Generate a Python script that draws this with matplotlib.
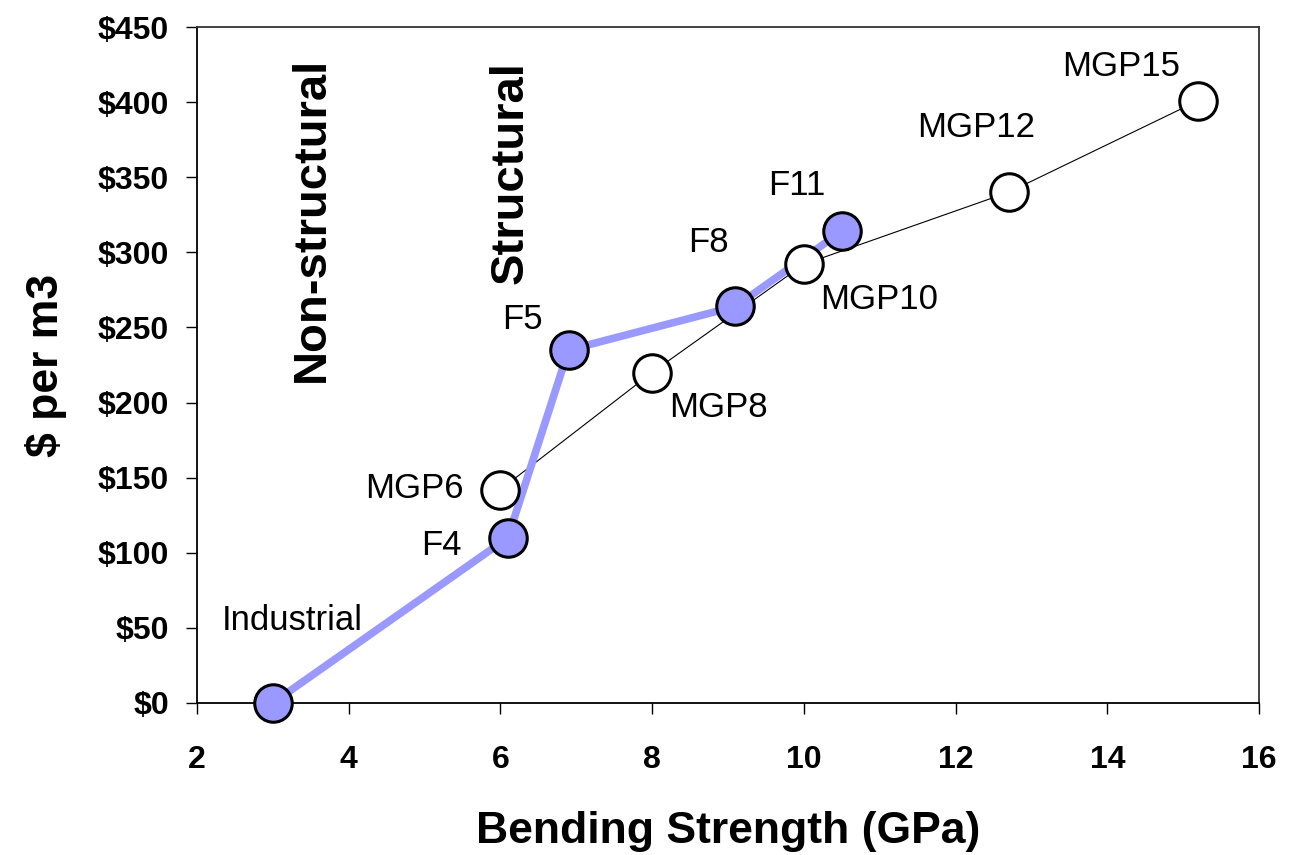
import matplotlib
matplotlib.use('Agg')

import matplotlib.pyplot as plt

# F-grade series (blue, thick line)
f_labels = ["Industrial", "F4", "F5", "F8", "F11"]
f_strength = [3.0, 6.1, 6.9, 9.1, 10.5]
f_cost = [0, 110, 235, 264, 314]

# MGP series (white markers, thin line)
mgp_labels = ["MGP6", "MGP8", "MGP10", "MGP12", "MGP15"]
mgp_strength = [6.0, 8.0, 10.0, 12.7, 15.2]
mgp_cost = [142, 220, 292, 340, 401]

y_ticks = [0, 50, 100, 150, 200, 250, 300, 350, 400, 450]
x_ticks = [2, 4, 6, 8, 10, 12, 14, 16]

# label offsets in pixels
f_offsets = [(20, 82), (-66, -8), (-46, 30), (-27, 64), (-45, 46)]
mgp_offsets = [(-86, 1), (66, -35), (75, -35), (-32, 65), (-77, 34)]

plt.rcParams['font.family'] = ['Liberation Sans', 'DejaVu Sans']

fig = plt.figure(figsize=(13.12, 8.55), dpi=100)
ax = fig.add_axes([0.150, 0.1778, 0.8096, 0.7906])

blue = '#9999FF'
ax.plot(mgp_strength, mgp_cost, color='black', lw=0.8, zorder=2)
ax.plot(f_strength, f_cost, color=blue, lw=5.5, zorder=3)
ax.plot(mgp_strength, mgp_cost, ls='none', marker='o', ms=27, mfc='white',
        mec='black', mew=2.2, zorder=4, clip_on=False)
ax.plot(f_strength, f_cost, ls='none', marker='o', ms=27, mfc=blue,
        mec='black', mew=2.2, zorder=5, clip_on=False)

for lab, x, y, off in zip(f_labels, f_strength, f_cost, f_offsets):
    ax.annotate(lab, (x, y), xytext=off, textcoords='offset pixels',
                ha='center', va='center', fontsize=25)
for lab, x, y, off in zip(mgp_labels, mgp_strength, mgp_cost, mgp_offsets):
    ax.annotate(lab, (x, y), xytext=off, textcoords='offset pixels',
                ha='center', va='center', fontsize=25)

ax.text(3.52, 322, "Non-structural", rotation=90, ha='center', va='center',
        fontsize=34, fontweight='bold')
ax.text(6.13, 353, "Structural", rotation=90, ha='center', va='center',
        fontsize=34, fontweight='bold')

ax.set_xlim(2, 16)
ax.set_ylim(0, 450)
ax.set_xticks(x_ticks)
ax.set_yticks(y_ticks)
ax.set_yticklabels(["$%d" % v for v in y_ticks])
ax.tick_params(direction='out', length=8, width=1, labelsize=23)
ax.tick_params(axis='y', pad=12)
ax.tick_params(axis='x', pad=22)
for lab in ax.get_xticklabels() + ax.get_yticklabels():
    lab.set_fontweight('bold')

for side in ['left', 'bottom', 'top', 'right']:
    ax.spines[side].set_linewidth(1.3)
    ax.spines[side].set_color('black')
ax.spines['top'].set_color('#333333')
ax.spines['right'].set_color('#333333')

ax.set_xlabel("Bending Strength (GPa)", fontsize=32, fontweight='bold', labelpad=26)
ax.set_ylabel("$ per m3", fontsize=32, fontweight='bold', labelpad=22)

plt.savefig('out.png', dpi=100)
